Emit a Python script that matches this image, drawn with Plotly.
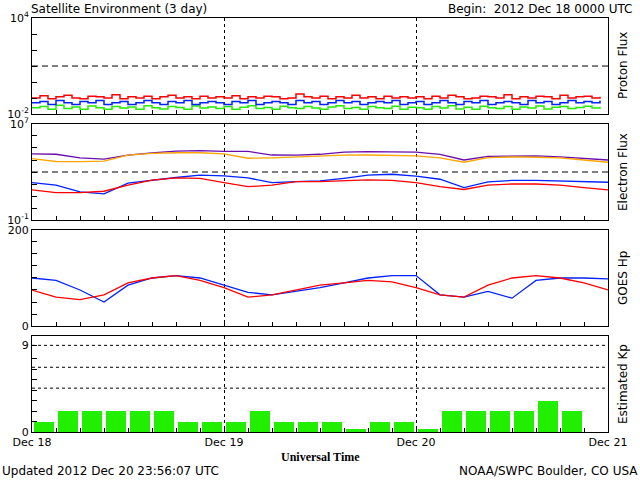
import pandas as pd
import plotly.graph_objects as go

t1 = pd.date_range("2012-12-18 00:00", periods=72, freq="h")
t3 = pd.date_range("2012-12-18 00:00", periods=25, freq="3h")
tkp = pd.date_range("2012-12-18 01:30", periods=24, freq="3h")

p_red = [0.10,0.14,0.09,0.12,0.15,0.10,0.09,0.13,0.12,0.10,0.16,0.09,0.12,0.10,0.13,0.09,0.12,0.15,0.10,0.12,0.09,0.13,0.10,0.12,
         0.10,0.14,0.09,0.12,0.10,0.13,0.12,0.09,0.10,0.18,0.12,0.10,0.13,0.09,0.12,0.10,0.15,0.10,0.12,0.09,0.13,0.10,0.12,0.10,
         0.12,0.09,0.13,0.10,0.15,0.12,0.09,0.10,0.13,0.12,0.10,0.16,0.09,0.12,0.10,0.13,0.12,0.09,0.15,0.10,0.12,0.13,0.10,0.12]
p_blue = [0.05,0.06,0.04,0.07,0.05,0.04,0.06,0.05,0.07,0.04,0.05,0.06,0.04,0.05,0.07,0.05,0.04,0.06,0.05,0.07,0.04,0.05,0.06,0.05,
          0.04,0.06,0.05,0.07,0.04,0.05,0.06,0.05,0.04,0.07,0.05,0.06,0.04,0.05,0.07,0.05,0.06,0.04,0.05,0.06,0.05,0.07,0.04,0.05,
          0.06,0.04,0.05,0.07,0.05,0.04,0.06,0.05,0.07,0.04,0.05,0.06,0.05,0.04,0.07,0.05,0.06,0.04,0.05,0.07,0.05,0.06,0.05,0.07]
p_green = [0.025,0.03,0.02,0.035,0.022,0.028,0.02,0.032,0.025,0.02,0.03,0.024,0.028,0.02,0.033,0.025,0.021,0.03,0.026,0.02,0.032,0.024,0.028,0.022,
           0.03,0.02,0.027,0.033,0.022,0.026,0.02,0.031,0.025,0.022,0.03,0.024,0.02,0.028,0.033,0.022,0.026,0.02,0.03,0.025,0.022,0.031,0.02,0.027,
           0.025,0.02,0.03,0.024,0.033,0.021,0.027,0.02,0.031,0.025,0.022,0.03,0.02,0.028,0.024,0.032,0.021,0.027,0.03,0.022,0.026,0.031,0.024,0.029]

e_purple = [3.2e4,3.0e4,1.5e4,1.2e4,2.5e4,4.0e4,5.5e4,6.0e4,5.2e4,5.2e4,2.6e4,2.5e4,3.0e4,4.5e4,5.0e4,5.0e4,4.5e4,3.0e4,1.0e4,2.0e4,2.0e4,2.2e4,1.8e4,1.3e4,1.0e4]
e_orange = [1.3e4,7.5e3,7.2e3,8.0e3,2.5e4,3.5e4,4.0e4,4.0e4,3.2e4,1.4e4,1.5e4,1.8e4,2.0e4,2.5e4,2.6e4,2.4e4,2.2e4,1.5e4,6.5e3,1.6e4,1.8e4,1.7e4,1.5e4,1.0e4,6.5e3]
e_blue = [1.3e2,8.0e1,2.2e1,1.5e1,1.2e2,2.1e2,3.5e2,5.5e2,4.7e2,3.2e2,1.3e2,1.6e2,1.8e2,3.0e2,5.5e2,6.5e2,4.5e2,2.5e2,5.0e1,1.5e2,2.0e2,2.0e2,1.8e2,1.5e2,1.4e2]
e_red = [3.2e1,1.9e1,1.9e1,2.5e1,8.0e1,2.1e2,3.2e2,3.0e2,1.3e2,6.0e1,8.0e1,1.6e2,1.6e2,2.0e2,2.2e2,2.0e2,1.3e2,6.0e1,3.5e1,8.0e1,1.0e2,1.0e2,8.0e1,5.0e1,3.2e1]

hp_blue = [100,95,75,50,85,100,105,100,85,70,65,72,80,90,100,105,105,65,60,72,58,95,100,100,98]
hp_red = [75,60,55,65,90,100,105,95,80,60,65,75,85,90,95,92,80,65,60,85,100,105,100,90,75]

kp = [1,2,2,2,2,2,1,1,1,2,1,1,1,0.3,1,1,0.3,2,2,2,2,3,2,None]

fig = go.Figure()
fig.add_trace(go.Scatter(x=t1, y=p_green, mode="lines", line=dict(color="#22ee00", width=1.5, shape="hv"), xaxis="x", yaxis="y"))
fig.add_trace(go.Scatter(x=t1, y=p_blue, mode="lines", line=dict(color="#0022ff", width=1.5, shape="hv"), xaxis="x", yaxis="y"))
fig.add_trace(go.Scatter(x=t1, y=p_red, mode="lines", line=dict(color="#ff0000", width=1.5, shape="hv"), xaxis="x", yaxis="y"))
for vals, col in [(e_purple, "#6a0dad"), (e_orange, "#ffa500"), (e_blue, "#0022ff"), (e_red, "#ff0000")]:
    fig.add_trace(go.Scatter(x=t3, y=vals, mode="lines", line=dict(color=col, width=1.3), xaxis="x2", yaxis="y2"))
fig.add_trace(go.Scatter(x=t3, y=hp_blue, mode="lines", line=dict(color="#0022ff", width=1.3), xaxis="x3", yaxis="y3"))
fig.add_trace(go.Scatter(x=t3, y=hp_red, mode="lines", line=dict(color="#ff0000", width=1.3), xaxis="x3", yaxis="y3"))
fig.add_trace(go.Bar(x=tkp, y=kp, width=2.5*3600*1000, marker=dict(color="#22ee00", line_width=0), xaxis="x4", yaxis="y4"))

xr = ["2012-12-18 00:00", "2012-12-21 00:00"]
doms = [(0.768, 1.0), (0.512, 0.744), (0.256, 0.488), (0.0, 0.232)]
common_x = dict(range=xr, type="date", showline=True, linecolor="black", linewidth=1, mirror=True, automargin=False,
                ticks="inside", ticklen=5, tickcolor="black", dtick=86400000, tick0="2012-12-18",
                showgrid=True, gridcolor="black", griddash="dot", gridwidth=1, zeroline=False,
                minor=dict(dtick=3*3600000, ticks="inside", ticklen=4, tickcolor="black", showgrid=False),
                tickformat="%b %d", tickfont=dict(family="DejaVu Sans", size=11, color="black"))
layout = dict(width=640, height=480, margin=dict(l=32, r=32, t=18, b=48, autoexpand=False), showlegend=False,
              plot_bgcolor="white", paper_bgcolor="white", bargap=0)
for i, (d0, d1) in enumerate(doms):
    k = "" if i == 0 else str(i + 1)
    xa = dict(common_x, domain=[0, 1], anchor="y" + k, showticklabels=(i == 3))
    if i > 0:
        xa["matches"] = "x"
    layout["xaxis" + k] = xa
ycommon = dict(showline=True, linecolor="black", linewidth=1, mirror=True, ticks="inside", ticklen=5, automargin=False,
               tickcolor="black", showgrid=False, zeroline=False, tickfont=dict(family="DejaVu Sans", size=11, color="black"))
layout["yaxis"] = dict(ycommon, domain=doms[0], anchor="x", type="log", range=[-2, 4],
                       tickvals=[1e-2, 1e-1, 1, 1e1, 1e2, 1e3, 1e4],
                       ticktext=["10<sup>-2</sup>", "", "", "", "", "", "10<sup>4</sup>"])
layout["yaxis2"] = dict(ycommon, domain=doms[1], anchor="x2", type="log", range=[-1, 7],
                        tickvals=[10**k for k in range(-1, 8)],
                        ticktext=["10<sup>-1</sup>"] + [""] * 7 + ["10<sup>7</sup>"])
layout["yaxis3"] = dict(ycommon, domain=doms[2], anchor="x3", range=[0, 200],
                        tickvals=[0, 25, 50, 75, 100, 125, 150, 175, 200],
                        ticktext=["0", "", "", "", "", "", "", "", "200"])
layout["yaxis4"] = dict(ycommon, domain=doms[3], anchor="x4", range=[0, 9.2],
                        tickvals=[0, 1, 2, 3, 4, 5, 6, 7, 8.3],
                        ticktext=["0", "", "", "", "", "", "", "", "9"])
fig.update_layout(**layout)

fig.add_hline(y=10, line=dict(color="black", dash="6px,4px", width=1), xref="x", yref="y")
fig.add_hline(y=1e3, line=dict(color="black", dash="6px,4px", width=1), xref="x2", yref="y2")
for v in [4.2, 6.2, 8.3]:
    fig.add_shape(type="line", xref="x4 domain", yref="y4", x0=0, x1=1, y0=v, y1=v,
                  line=dict(color="black", dash="dot", width=1))

f = dict(family="DejaVu Sans", size=12, color="black")
ann = [
    dict(text="Satellite Environment (3 day)", x=-0.005, y=1.0, xref="paper", yref="paper", yanchor="bottom", xanchor="left", yshift=0),
    dict(text="Begin:  2012 Dec 18 0000 UTC", x=1.045, y=1.0, xref="paper", yref="paper", yanchor="bottom", xanchor="right", yshift=0),
    dict(text="<b>Universal Time</b>", x=0.5, y=-0.038, xref="paper", yref="paper", yanchor="top", xanchor="center",
         font=dict(family="Liberation Serif", size=12, color="black")),
    dict(text="Updated 2012 Dec 20 23:56:07 UTC", x=-0.055, y=-0.072, xref="paper", yref="paper", yanchor="top", xanchor="left"),
    dict(text="NOAA/SWPC Boulder, CO USA", x=1.055, y=-0.072, xref="paper", yref="paper", yanchor="top", xanchor="right"),
]
for lab, (d0, d1) in zip(["Proton Flux", "Electron Flux", "GOES Hp", "Estimated Kp"], doms):
    ann.append(dict(text=lab, x=1.0, y=(d0 + d1) / 2, xref="paper", yref="paper", xanchor="left", yanchor="middle",
                    textangle=-90, xshift=6))
for a in ann:
    a.setdefault("font", f)
    a["showarrow"] = False
fig.update_layout(annotations=ann)
fig.write_html("out.html", config={"displayModeBar": False},
               post_script="document.body.style.margin='0';document.body.style.overflow='hidden';")
